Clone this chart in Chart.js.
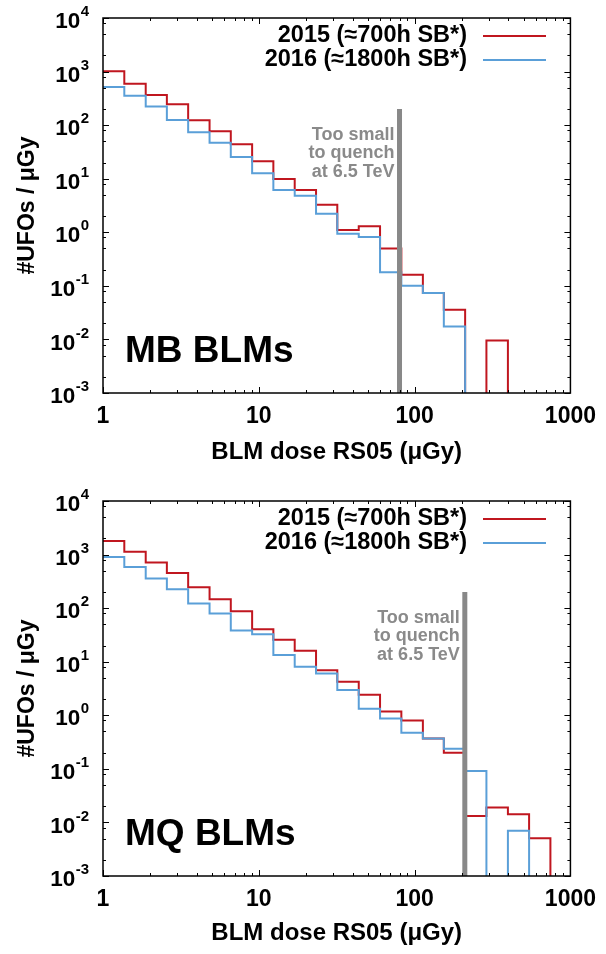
<!DOCTYPE html>
<html lang="en">
<head>
<meta charset="UTF-8" />
<title>UFOs vs BLM dose — MB and MQ BLMs</title>
<script src="https://cdn.jsdelivr.net/npm/chart.js"></script>
<style>
  html, body { margin: 0; padding: 0; background: #fff; }
  .panel { width: 606px; height: 477px; }
  canvas { display: block; }
</style>
</head>
<body>
<div class="panel"><canvas id="mbChart" width="606" height="477"></canvas></div>
<div class="panel"><canvas id="mqChart" width="606" height="477"></canvas></div>

<script>
// histogram bin edges, BLM dose in µGy (log spaced)
const binEdges = [1, 1.37, 1.88, 2.57, 3.52, 4.83, 6.61, 9.06, 12.4, 17.0, 23.3, 31.9, 43.8, 60.0, 82.2, 113, 154, 211, 289, 397, 543, 744];

// #UFOs / µGy per bin (0 = empty bin)
const mb2015 = [1010, 594, 365, 245, 123, 76.6, 43.8, 21.1, 9.87, 6.15, 3.27, 1.10, 1.29, 0.50, 0.161, 0.0735, 0.0359, 0, 0.0096];
const mb2016 = [515, 355, 224, 125, 73.4, 47.1, 25.4, 12.6, 6.15, 4.82, 2.22, 0.94, 0.82, 0.179, 0.1007, 0.0735, 0.0175];
const mq2015 = [1795, 1135, 708, 455, 246, 147, 87.7, 40.5, 25.6, 16.0, 6.96, 4.22, 2.41, 1.18, 0.80, 0.37, 0.20, 0.0132, 0.0189, 0.0142, 0.00506];
const mq2016 = [903, 588, 356, 225, 122, 79.3, 38.2, 32.7, 13.4, 8.04, 6.04, 2.95, 1.32, 0.875, 0.47, 0.37, 0.238, 0.091, 0, 0.00703];

// quench limit at 6.5 TeV (µGy) and height of the marker
const mbThreshold = 80;
const mqThreshold = 210;
const thresholdTop = 200;

const legendLabels = ['2015 (\u2248700h SB*)', '2016 (\u22481800h SB*)'];
const thresholdText = ['Too small', 'to quench', 'at 6.5 TeV'];
const xTickLabels = [1, 10, 100, 1000];
const xMinorTicks = [2, 3, 4, 5, 6, 7, 8, 9];
const yTickExponents = [4, 3, 2, 1, 0, -1, -2, -3];
const yMinorTicks = [2, 5, 8];

const red = '#c0161f';
const blue = '#5a9fd8';
const gray = '#888888';
const FONT = "'Liberation Sans', Arial, Helvetica, sans-serif";
const FLOOR = 1e-6; // empty bins drop below the axis

Chart.defaults.font.family = FONT;

// step histogram: one point per left edge, value held until next edge
function histPoints(values) {
  const pts = [{ x: binEdges[0], y: values[0] }];
  values.forEach((v, i) => pts.push({ x: binEdges[i + 1], y: v > 0 ? v : FLOOR }));
  // drop to the axis after the last bin
  pts.push({ x: binEdges[values.length], y: FLOOR });
  return pts;
}

function decorPlugin(label) {
  return {
    id: 'decor',
    afterDatasetsDraw(chart) {
      const ctx = chart.ctx;
      const { left, right, top, bottom } = chart.chartArea;
      const xs = chart.scales.x, ys = chart.scales.y;
      ctx.save();

      // frame
      ctx.strokeStyle = '#000';
      ctx.lineWidth = 1.5;
      ctx.strokeRect(left, top, right - left, bottom - top);

      // inward ticks on all four sides
      ctx.lineWidth = 1;
      ctx.beginPath();
      xTickLabels.forEach(d => {
        const px = Math.round(xs.getPixelForValue(d)) + 0.5;
        ctx.moveTo(px, bottom); ctx.lineTo(px, bottom - 6);
        ctx.moveTo(px, top); ctx.lineTo(px, top + 6);
        xMinorTicks.forEach(m => {
          const v = d * m;
          if (v >= 1000) return;
          const p = Math.round(xs.getPixelForValue(v)) + 0.5;
          ctx.moveTo(p, bottom); ctx.lineTo(p, bottom - 3);
          ctx.moveTo(p, top); ctx.lineTo(p, top + 3);
        });
      });
      yTickExponents.forEach(e => {
        const d = Math.pow(10, e);
        const py = Math.round(ys.getPixelForValue(d)) + 0.5;
        ctx.moveTo(left, py); ctx.lineTo(left + 6, py);
        ctx.moveTo(right, py); ctx.lineTo(right - 6, py);
        yMinorTicks.forEach(m => {
          const v = d * m;
          if (v >= 1e4) return;
          const p = Math.round(ys.getPixelForValue(v)) + 0.5;
          ctx.moveTo(left, p); ctx.lineTo(left + 3, p);
          ctx.moveTo(right, p); ctx.lineTo(right - 3, p);
        });
      });
      ctx.stroke();

      // y tick labels 10^n
      ctx.fillStyle = '#000';
      ctx.textBaseline = 'middle';
      yTickExponents.forEach(e => {
        const py = ys.getPixelForValue(Math.pow(10, e));
        const exp = String(e);
        ctx.font = 'bold 15px ' + FONT;
        const ew = ctx.measureText(exp).width;
        ctx.textAlign = 'left';
        ctx.fillText(exp, 89 - ew, py - 6);
        ctx.font = 'bold 22.5px ' + FONT;
        ctx.textAlign = 'right';
        ctx.fillText('10', 89 - ew - 0.5, py + 4);
      });

      // legend
      const colors = [red, blue];
      ctx.font = 'bold 23.5px ' + FONT;
      ctx.textAlign = 'right';
      legendLabels.forEach((t, i) => {
        const ly = top + 18 + i * 24;
        ctx.fillStyle = '#000';
        ctx.fillText(t, 467, ly);
        ctx.strokeStyle = colors[i];
        ctx.lineWidth = 2.2;
        ctx.beginPath();
        ctx.moveTo(483, ly); ctx.lineTo(546, ly);
        ctx.stroke();
      });

      // quench-limit annotation
      const th = chart.data.datasets[0].data[0].x;
      const tx = xs.getPixelForValue(th) - 5;
      const ty = ys.getPixelForValue(thresholdTop);
      ctx.font = 'bold 18px ' + FONT;
      ctx.fillStyle = '#8a8a8a';
      thresholdText.forEach((t, i) => ctx.fillText(t, tx, ty + 26 + i * 18.5));

      // panel label
      ctx.font = 'bold 37px ' + FONT;
      ctx.fillStyle = '#000';
      ctx.textAlign = 'left';
      ctx.textBaseline = 'alphabetic';
      ctx.fillText(label, left + 22, bottom - 31);

      ctx.restore();
    }
  };
}

function makePanel(id, data2015, data2016, threshold, label, padTop, axisH, titlePad) {
  return new Chart(document.getElementById(id), {
    type: 'line',
    data: {
      datasets: [
        {
          label: 'threshold',
          data: [{ x: threshold, y: FLOOR }, { x: threshold, y: thresholdTop }],
          borderColor: gray,
          borderWidth: 5,
          pointRadius: 0,
          order: -1
        },
        {
          label: legendLabels[1],
          data: histPoints(data2016),
          borderColor: blue,
          borderWidth: 2,
          stepped: 'after',
          pointRadius: 0,
          order: 0
        },
        {
          label: legendLabels[0],
          data: histPoints(data2015),
          borderColor: red,
          borderWidth: 2,
          stepped: 'after',
          pointRadius: 0,
          order: 1
        }
      ]
    },
    options: {
      responsive: false,
      devicePixelRatio: 1,
      animation: false,
      clip: 0,
      layout: { padding: { top: padTop, right: 32, left: 0, bottom: 0 } },
      plugins: { legend: { display: false }, tooltip: { enabled: false } },
      scales: {
        x: {
          type: 'logarithmic',
          min: 1,
          max: 1000,
          afterBuildTicks: s => { s.ticks = xTickLabels.map(v => ({ value: v })); },
          afterFit: s => { s.height = axisH; },
          grid: { display: false, drawTicks: false },
          border: { display: false },
          ticks: {
            autoSkip: false,
            maxRotation: 0,
            padding: 10,
            color: '#000',
            font: { size: 23, weight: 'bold' },
            callback: v => String(v)
          },
          title: {
            display: true,
            text: 'BLM dose RS05 (\u03bcGy)',
            color: '#000',
            font: { size: 24, weight: 'bold' },
            padding: { top: 0, bottom: titlePad }
          }
        },
        y: {
          type: 'logarithmic',
          min: 1e-3,
          max: 1e4,
          afterBuildTicks: s => { s.ticks = yTickExponents.map(e => ({ value: Math.pow(10, e) })); },
          afterFit: s => { s.width = 103; },
          grid: { display: false, drawTicks: false },
          border: { display: false },
          ticks: { display: false },
          title: {
            display: true,
            text: '#UFOs / \u03bcGy',
            color: '#000',
            font: { size: 23, weight: 'bold' },
            padding: { top: 14, bottom: 0 }
          }
        }
      }
    },
    plugins: [decorPlugin(label)]
  });
}

makePanel('mbChart', mb2015, mb2016, mbThreshold, 'MB BLMs', 18, 84, 10);
makePanel('mqChart', mq2015, mq2016, mqThreshold, 'MQ BLMs', 24, 78, 6);
</script>
</body>
</html>
